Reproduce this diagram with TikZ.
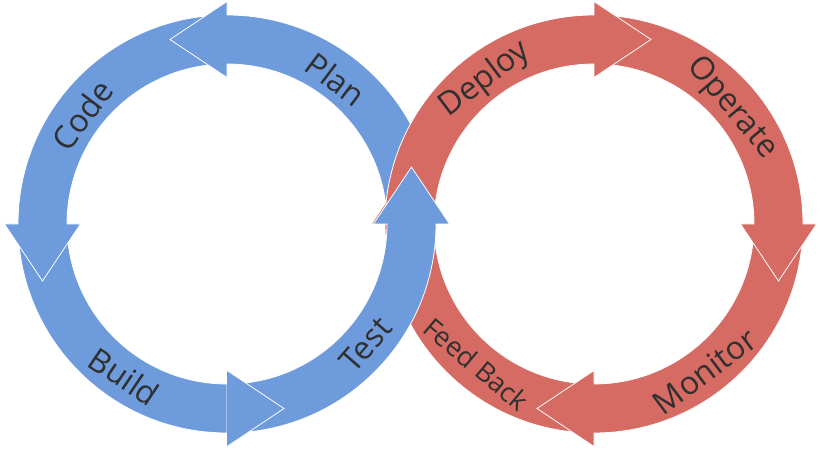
\documentclass[tikz,border=0pt]{standalone}
\usepackage{fontspec}
\setmainfont{Open Sans}
\usepackage{tikz}
\usetikzlibrary{calc}
\definecolor{cycleblue}{HTML}{6E9BDB}
\definecolor{cyclered}{HTML}{D66B64}
\definecolor{cycletext}{HTML}{303030}
\newcommand{\ringin}{160}
\newcommand{\ringout}{209}
\newcommand{\ringmid}{184.5}
\newcommand{\headin}{146.5}
\newcommand{\headout}{222.5}
\newcommand{\headlen}{57}
% #1 centre, #2 tail angle, #3 head angle, #4 turn of the tip (90 or -90), #5 colour
\newcommand{\cyclearrow}[5]{%
  \filldraw[segment, fill=#5]
    ($(#1)+(#2:\ringout)$) arc[start angle=#2, end angle=#3, radius=\ringout]
    -- ($(#1)+(#3:\headout)$)
    -- ($(#1)+(#3:\ringmid)+({#3+(#4)}:\headlen)$)
    -- ($(#1)+(#3:\headin)$)
    -- ($(#1)+(#3:\ringin)$)
    arc[start angle=#3, end angle=#2, radius=\ringin] -- cycle;}

\begin{document}
\begin{tikzpicture}[
  x=1pt, y=1pt,
  segment/.style={draw=white, line width=0.8pt},
  lbl/.style={text=cycletext, font=\fontsize{32}{38}\selectfont, inner sep=0pt},
  small/.style={lbl, font=\fontsize{27}{32}\selectfont}
]
\useasboundingbox (0,0) rectangle (820,453);
\coordinate (blue) at (227,229);
\coordinate (red) at (594,229);

\cyclearrow{blue}{180}{270}{90}{cycleblue}
\cyclearrow{blue}{90}{180}{90}{cycleblue}
\cyclearrow{blue}{0}{90}{90}{cycleblue}

\cyclearrow{red}{-90}{-180}{-90}{cyclered}
\cyclearrow{red}{0}{-90}{-90}{cyclered}
\cyclearrow{red}{90}{0}{-90}{cyclered}
\cyclearrow{red}{180}{90}{-90}{cyclered}

\cyclearrow{blue}{270}{360}{90}{cycleblue}

\coordinate (buildbarbout) at ($(blue)+(270:\headout)$);
\coordinate (buildbarbin) at ($(blue)+(270:\headin)$);
\coordinate (buildtip) at ($(blue)+(270:\ringmid)+(0:\headlen)$);
\fill[cycleblue] (buildbarbout) -- (buildtip) -- (buildbarbin) -- cycle;
\draw[segment] (buildbarbout) -- (buildtip) -- (buildbarbin);

\node[lbl, rotate=-37] (plan) at ($(blue)+(53:181)$) {Plan};
\node[lbl, rotate=53] (code) at ($(blue)+(143:181)$) {Code};
\node[lbl, rotate=-34] (build) at ($(blue)+(236:184)$) {Build};
\node[lbl, rotate=49] (test) at ($(blue)+(319:184)$) {Test};
\node[lbl, rotate=37] (deploy) at ($(red)+(127:181)$) {Deploy};
\node[lbl, rotate=-50] (operate) at ($(red)+(40:180)$) {Operate};
\node[lbl, rotate=37] (monitor) at ($(red)+(307:184)$) {Monitor};
\node[small, rotate=-40] (feedback) at ($(red)+(230:183)$) {Feed Back};
\end{tikzpicture}
\end{document}
